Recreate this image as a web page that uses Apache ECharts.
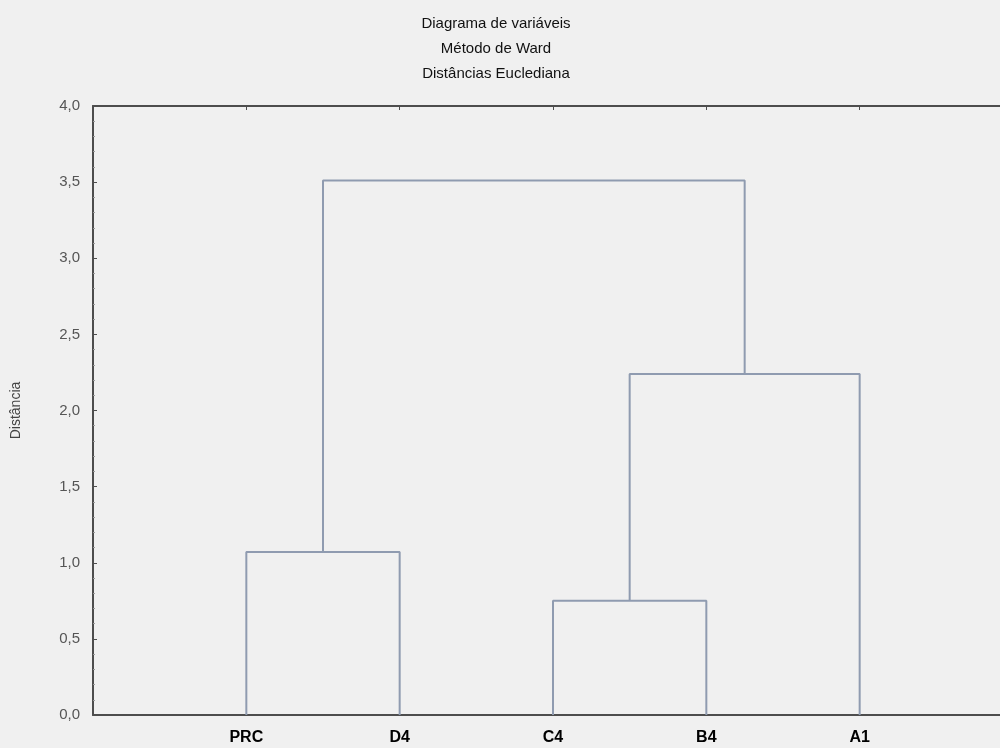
<!DOCTYPE html>
<html>
<head>
<meta charset="utf-8">
<script src="https://cdn.jsdelivr.net/npm/echarts@6/dist/echarts.min.js"></script>
<style>
  html, body { margin: 0; padding: 0; background: #f0f0f0; }
  #chart { width: 1000px; height: 748px; }
</style>
</head>
<body>
<div id="chart"></div>
<script>
// Leaf order along the x axis
const leaves = ['PRC', 'D4', 'C4', 'B4', 'A1'];
// Ward linkage joins: the two clusters joined and the joining distance
const mergeLeft = [['PRC'], ['C4'], ['C4', 'B4'], ['PRC', 'D4']];
const mergeRight = [['D4'], ['B4'], ['A1'], ['C4', 'B4', 'A1']];
const mergeHeight = [1.07, 0.75, 2.24, 3.51];
// Y axis ticks
const yTicks = [0, 0.5, 1.0, 1.5, 2.0, 2.5, 3.0, 3.5, 4.0];

const titleLines = ['Diagrama de variáveis', 'Método de Ward', 'Distâncias Euclediana'];

// Position (1-based) and height of each cluster, filled while walking the joins
const key = arr => arr.slice().sort().join('+');
const clusterPos = {};
const clusterH = {};
leaves.forEach((l, i) => { clusterPos[key([l])] = i + 1; clusterH[key([l])] = 0; });

const branchSeries = mergeHeight.map((h, i) => {
  const a = key(mergeLeft[i]);
  const b = key(mergeRight[i]);
  const xa = clusterPos[a], xb = clusterPos[b];
  const pts = [[xa, clusterH[a]], [xa, h], [xb, h], [xb, clusterH[b]]];
  const joined = key(mergeLeft[i].concat(mergeRight[i]));
  clusterPos[joined] = (xa + xb) / 2;
  clusterH[joined] = h;
  return {
    type: 'line',
    data: pts,
    symbol: 'none',
    silent: true,
    animation: false,
    lineStyle: { color: '#8f9bb0', width: 2 },
    z: 3
  };
});

const axisColor = '#4d4d4d';
const chart = echarts.init(document.getElementById('chart'));
chart.setOption({
  backgroundColor: '#f0f0f0',
  animation: false,
  title: titleLines.map((t, i) => ({
    text: t,
    left: 491,
    textAlign: 'center',
    top: 11 + i * 25,
    textStyle: { fontFamily: 'Liberation Sans', fontSize: 15, fontWeight: 'normal', color: '#111' }
  })),
  grid: { left: 93, right: -13, top: 106, bottom: 33, outerBoundsMode: 'none', containLabel: false },
  xAxis: [
    {
      type: 'value',
      min: 0,
      max: leaves.length + 1,
      interval: 1,
      position: 'bottom',
      axisLine: { show: true, lineStyle: { color: axisColor, width: 2 } },
      axisTick: { show: true, inside: true, length: 4, lineStyle: { color: axisColor } },
      splitLine: { show: false },
      axisLabel: {
        margin: 15,
        fontFamily: 'Liberation Sans',
        fontSize: 16,
        fontWeight: 'bold',
        color: '#000',
        formatter: v => (v >= 1 && v <= leaves.length ? leaves[v - 1] : '')
      }
    },
    {
      type: 'value',
      min: 0,
      max: leaves.length + 1,
      interval: 1,
      position: 'top',
      axisLine: { show: true, lineStyle: { color: axisColor, width: 2 } },
      axisTick: { show: true, inside: true, length: 4, lineStyle: { color: axisColor } },
      axisLabel: { show: false },
      splitLine: { show: false }
    }
  ],
  yAxis: {
    type: 'value',
    min: 0,
    max: 4,
    interval: 0.5,
    name: 'Distância',
    nameLocation: 'middle',
    nameGap: 70,
    nameTextStyle: { fontFamily: 'Liberation Sans', fontSize: 14, color: '#444' },
    axisLine: { show: true, lineStyle: { color: axisColor, width: 2 } },
    axisTick: { show: true, inside: true, length: 4, lineStyle: { color: axisColor } },
    minorTick: { show: true, splitNumber: 5, length: 2, lineStyle: { color: '#999' } },
    splitLine: { show: false },
    axisLabel: {
      margin: 13,
      fontFamily: 'Liberation Sans',
      fontSize: 15,
      color: '#555',
      formatter: v => (yTicks.indexOf(v) >= 0 ? v.toFixed(1).replace('.', ',') : '')
    }
  },
  series: branchSeries
});
</script>
</body>
</html>
